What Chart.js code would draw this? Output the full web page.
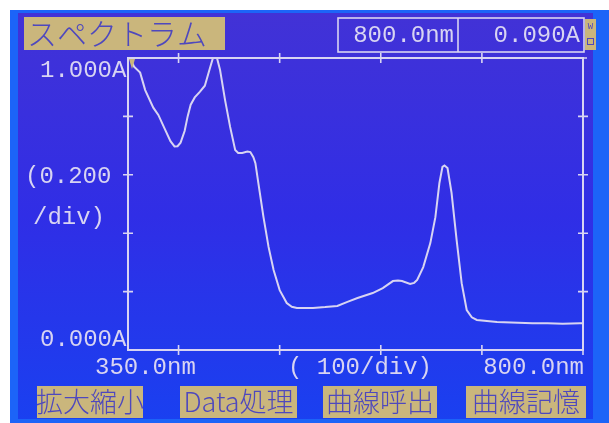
<!DOCTYPE html>
<html>
<head>
<meta charset="utf-8">
<script src="https://cdn.jsdelivr.net/npm/chart.js@4/dist/chart.umd.min.js"></script>
<style>
  html, body { margin: 0; padding: 0; background: #fff; }
  #wrap { width: 609px; height: 423px; position: relative; }
</style>
</head>
<body>
<div id="wrap"><canvas id="spectrum-chart"></canvas></div>
<script>
// Spectrum data (nm / absorbance)
const wavelengths = [350, 352, 356, 362, 367, 375, 380, 386, 392, 396, 399, 402, 406, 409, 412, 416, 421, 426, 431, 434, 436, 438, 441, 446, 451, 456, 459, 463, 468, 471, 474, 476, 479, 484, 489, 494, 500, 507, 512, 517, 533, 545, 557, 567, 577, 592, 602, 612, 617, 621, 629, 633, 636, 642, 649, 654, 658, 661, 663, 666, 670, 675, 680, 685, 690, 695, 715, 750, 765, 780, 797, 800];
const absorbance = [1.02, 1.0, 0.97, 0.95, 0.89, 0.83, 0.805, 0.76, 0.715, 0.697, 0.698, 0.71, 0.75, 0.80, 0.84, 0.865, 0.884, 0.905, 0.965, 1.0, 1.01, 1.0, 0.96, 0.856, 0.764, 0.685, 0.675, 0.675, 0.68, 0.678, 0.66, 0.64, 0.57, 0.455, 0.353, 0.274, 0.205, 0.161, 0.148, 0.144, 0.144, 0.147, 0.151, 0.165, 0.178, 0.195, 0.212, 0.236, 0.238, 0.236, 0.226, 0.23, 0.24, 0.284, 0.366, 0.455, 0.572, 0.627, 0.632, 0.623, 0.538, 0.377, 0.229, 0.137, 0.112, 0.103, 0.096, 0.092, 0.092, 0.09, 0.092, 0.092];

const xTickValues = [400, 500, 600, 700];
const yTickValues = [0.2, 0.4, 0.6, 0.8];

const titleText = 'スペクトラム';
const readoutTexts = ['800.0nm', '0.090A'];
const yAxisTexts = ['1.000A', '(0.200', '/div)', '0.000A'];
const xAxisTexts = ['350.0nm', '( 100/div)', '800.0nm'];
const buttonTexts = ['拡大縮小', 'Data処理', '曲線呼出', '曲線記憶'];

const LCD = 'rgb(216,212,242)';
const BEIGE = 'rgb(202,182,124)';
const BEIGE_TEXT = 'rgb(78,72,190)';
const MONO = '"Liberation Mono", "DejaVu Sans Mono", monospace';
const CJK = '"Noto Sans CJK JP", "Noto Sans", sans-serif';

// Screen background: white photo edge, bright bezel, purple-blue LCD
const screenPlugin = {
  id: 'screen',
  beforeDraw(chart) {
    const c = chart.ctx;
    c.save();
    c.fillStyle = '#ffffff';
    c.fillRect(0, 0, 609, 423);
    c.fillStyle = 'rgb(28,100,248)';
    c.fillRect(10, 10, 599, 413);
    const g = c.createLinearGradient(0, 12, 0, 420);
    g.addColorStop(0, 'rgb(66,50,214)');
    g.addColorStop(0.5, 'rgb(48,46,230)');
    g.addColorStop(1, 'rgb(26,64,240)');
    c.fillStyle = g;
    c.fillRect(18, 13, 575, 406);
    c.restore();
  }
};

// Frame, ticks and all the screen texts
const overlayPlugin = {
  id: 'overlay',
  afterDatasetsDraw(chart) {
    const c = chart.ctx;
    const xs = chart.scales.x;
    const ys = chart.scales.y;
    const a = chart.chartArea;
    c.save();
    c.strokeStyle = LCD;
    c.lineWidth = 2;
    c.strokeRect(a.left, a.top, a.right - a.left, a.bottom - a.top);

    c.lineWidth = 1.6;
    c.beginPath();
    xTickValues.forEach(v => {
      const px = xs.getPixelForValue(v);
      c.moveTo(px, a.top - 5); c.lineTo(px, a.top + 5);
      c.moveTo(px, a.bottom - 5); c.lineTo(px, a.bottom + 5);
    });
    yTickValues.forEach(v => {
      const py = ys.getPixelForValue(v);
      c.moveTo(a.left - 5, py); c.lineTo(a.left + 5, py);
      c.moveTo(a.right - 5, py); c.lineTo(a.right + 5, py);
    });
    c.moveTo(a.right, a.bottom); c.lineTo(a.right, a.bottom + 5);
    c.moveTo(a.right, a.top); c.lineTo(a.right + 4, a.top);
    c.stroke();

    // small beige cursor marker at the start of the trace
    c.fillStyle = BEIGE;
    c.beginPath();
    c.moveTo(a.left + 1, a.top + 1);
    c.lineTo(a.left + 7, a.top + 1);
    c.lineTo(a.left + 4, a.top + 11);
    c.closePath();
    c.fill();

    // title box
    c.fillStyle = BEIGE;
    c.fillRect(24, 17, 201, 33);
    c.fillStyle = BEIGE_TEXT;
    c.font = '300 30px ' + CJK;
    c.textBaseline = 'middle';
    c.textAlign = 'left';
    c.fillText(titleText, 27, 34);

    // readout boxes
    c.strokeStyle = LCD;
    c.lineWidth = 1.6;
    c.strokeRect(338, 18, 246, 34);
    c.beginPath();
    c.moveTo(458, 18); c.lineTo(458, 52);
    c.stroke();
    c.fillStyle = LCD;
    c.font = '24px ' + MONO;
    c.textAlign = 'right';
    c.fillText(readoutTexts[0], 454, 36);
    c.fillText(readoutTexts[1], 580, 36);
    c.fillStyle = BEIGE;
    c.fillRect(585, 19, 11, 31);
    c.fillStyle = BEIGE_TEXT;
    c.font = '9px ' + MONO;
    c.textAlign = 'center';
    c.fillText('W', 590.5, 27);
    c.strokeStyle = BEIGE_TEXT;
    c.lineWidth = 1;
    c.strokeRect(587.5, 38.5, 6, 6);

    // y axis texts
    c.fillStyle = LCD;
    c.font = '24px ' + MONO;
    c.textAlign = 'left';
    c.fillText(yAxisTexts[0], 40, 71);
    c.fillText(yAxisTexts[1], 25, 177);
    c.fillText(yAxisTexts[2], 33, 218);
    c.fillText(yAxisTexts[3], 40, 340);

    // x axis texts
    c.fillText(xAxisTexts[0], 95, 368);
    c.fillText(xAxisTexts[1], 288, 368);
    c.textAlign = 'right';
    c.fillText(xAxisTexts[2], 584, 368);

    // soft-key buttons
    const buttons = [[37, 106], [180, 117], [323, 114], [466, 120]];
    c.font = '300 27px ' + CJK;
    c.textAlign = 'center';
    buttons.forEach((b, i) => {
      c.fillStyle = BEIGE;
      c.fillRect(b[0], 386, b[1], 32);
      c.fillStyle = BEIGE_TEXT;
      c.fillText(buttonTexts[i], b[0] + b[1] / 2, 402);
    });
    c.restore();
  }
};

function renderSpectrumChart(elementId) {
  const ctx = document.getElementById(elementId);
  if (!ctx) return;

  new Chart(ctx, {
    type: 'line',
    data: {
      datasets: [{
        label: 'Absorbance',
        data: wavelengths.map((w, i) => ({ x: w, y: absorbance[i] })),
        borderColor: LCD,
        borderWidth: 2,
        pointRadius: 0,
        tension: 0,
        fill: false
      }]
    },
    options: {
      responsive: true,
      maintainAspectRatio: false,
      animation: false,
      layout: {
        padding: { left: 128, right: 26, top: 58, bottom: 73 }
      },
      scales: {
        x: { type: 'linear', min: 350, max: 800, display: false },
        y: { min: 0, max: 1, display: false }
      },
      plugins: {
        legend: { display: false },
        tooltip: { enabled: false }
      }
    },
    plugins: [screenPlugin, overlayPlugin]
  });
}

document.addEventListener('DOMContentLoaded', function() {
  if (typeof Chart === 'undefined') {
    console.error('Chart.js is not loaded.');
    return;
  }
  renderSpectrumChart('spectrum-chart');
});
</script>
</body>
</html>
